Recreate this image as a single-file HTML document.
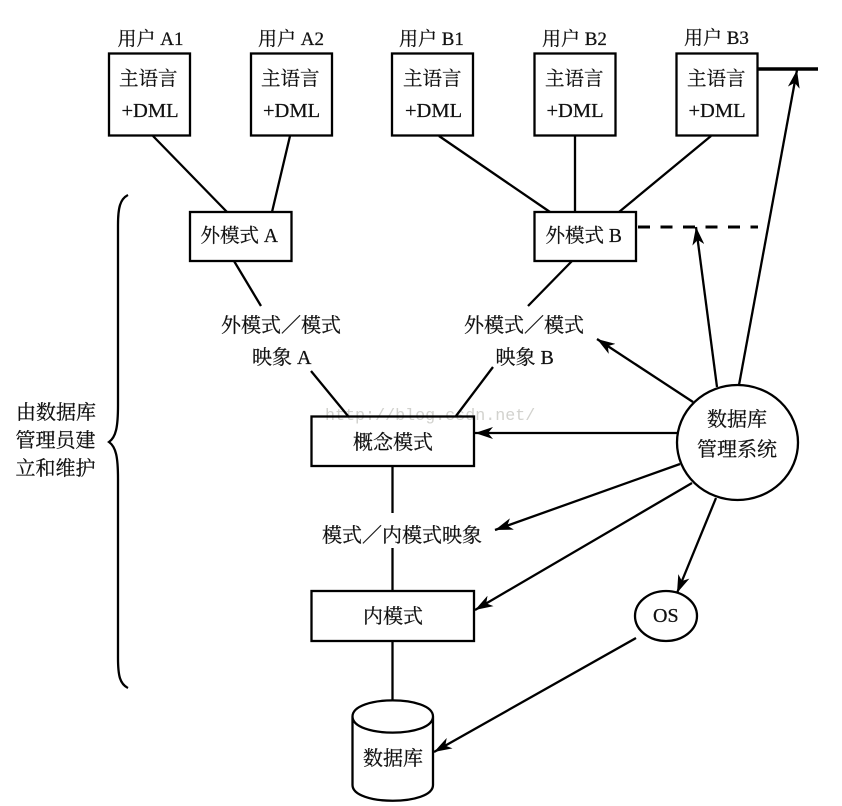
<!DOCTYPE html>
<html><head><meta charset="utf-8">
<style>
html,body{margin:0;padding:0;background:#fff;width:842px;height:806px;overflow:hidden}
svg{display:block}
text{font-family:"Liberation Serif","Noto Serif CJK SC",serif;fill:#111;font-size:20px;stroke:#111;stroke-width:.25px}
.u{font-size:19px}
.d{font-size:19.500px}
.m{font-size:20.500px}
.l{stroke:#000;stroke-width:2.300;fill:none}
.h{fill:#000;stroke:none}
</style></head><body>
<svg width="842" height="806" viewBox="0 0 842 806" xmlns="http://www.w3.org/2000/svg">
<defs>
<marker id="a" viewBox="0 0 18 12" refX="18" refY="6" markerWidth="18" markerHeight="12" markerUnits="userSpaceOnUse" orient="auto"><path class="h" d="M0 0L18 6L0 12L5 6Z"/></marker>
</defs>
<text x="325" y="420" style="font-family:'Liberation Mono',monospace;font-size:16.700px;fill:#d2d2ce;stroke:none">http://blog.csdn.net/</text>

<g class="l">
<rect x="109" y="53.500" width="81" height="82"/>
<rect x="251" y="53.500" width="81" height="82"/>
<rect x="392" y="53.500" width="81" height="82"/>
<rect x="534.500" y="53.500" width="81" height="82"/>
<rect x="676.500" y="53.500" width="81" height="82"/>
<rect x="190" y="212" width="101.500" height="49"/>
<rect x="534.500" y="212" width="101.500" height="49"/>
<rect x="311.500" y="416.500" width="162.500" height="49.500"/>
<rect x="311.500" y="591" width="162.500" height="50"/>
<ellipse cx="737.500" cy="442.500" rx="60.500" ry="57.500"/>
<ellipse cx="666" cy="616" rx="31" ry="25"/>
<path d="M352.500 716.500C352.500 695 433 695 433 716.500V785C433 806 352.500 806 352.500 785ZM352.500 716.500C352.500 738 433 738 433 716.500"/>
<path d="M153 136L227 212M290 136L272 212M439 136L550 212M575 136V212M711 136L619 212"/>
<path d="M234 261L261 306M572 261L528 306M311 371L348 416M493 367L456 416"/>
<path d="M392.500 466V513M392.500 548V591M392.500 641V701"/>
<path d="M128 195C120 199 118 208 118 225V405C118 427 116 437 109 442C116 447 118 457 118 479V658C118 676 120 684 128 688"/>
<path d="M758 69H818" stroke-width="3.500"/>
<path d="M638 227H758" stroke-width="3" stroke-dasharray="12 10.500"/>
<g marker-end="url(#a)">
<path d="M739 385L797 70"/>
<path d="M717 387L696 227"/>
<path d="M693 402L597 339"/>
<path d="M677 433H475"/>
<path d="M680 464L495 530"/>
<path d="M692 483L475 610"/>
<path d="M716 498L677 593"/>
<path d="M636 638L434 752"/>
</g>
</g>

<text class="u" x="117.500" y="45">用户 A1</text>
<text class="u" x="258" y="45">用户 A2</text>
<text class="u" x="399" y="45">用户 B1</text>
<text class="u" x="542" y="45">用户 B2</text>
<text class="u" x="684" y="44">用户 B3</text>

<text class="d" x="119" y="85">主语言</text>
<text class="d" x="261" y="85">主语言</text>
<text class="d" x="403" y="85">主语言</text>
<text class="d" x="545" y="85">主语言</text>
<text class="d" x="687" y="85">主语言</text>
<text class="m" x="121.500" y="117">+DML</text>
<text class="m" x="263" y="117">+DML</text>
<text class="m" x="405" y="117">+DML</text>
<text class="m" x="546.500" y="117">+DML</text>
<text class="m" x="688.500" y="117">+DML</text>

<text class="d" x="200.500" y="242">外模式 A</text>
<text class="d" x="545.500" y="242">外模式 B</text>

<text x="221" y="332">外模式／模式</text>
<text x="252" y="364">映象 A</text>
<text x="464" y="332">外模式／模式</text>
<text x="495.500" y="364">映象 B</text>

<text x="353" y="449">概念模式</text>
<text x="322" y="542">模式／内模式映象</text>
<text x="363" y="623">内模式</text>
<text x="653" y="622" style="font-size:20px">OS</text>
<text x="363" y="765">数据库</text>

<text x="707" y="426">数据库</text>
<text x="697" y="456">管理系统</text>

<text x="16" y="419">由数据库</text>
<text x="15.500" y="447">管理员建</text>
<text x="15.500" y="475">立和维护</text>
</svg>
</body></html>
